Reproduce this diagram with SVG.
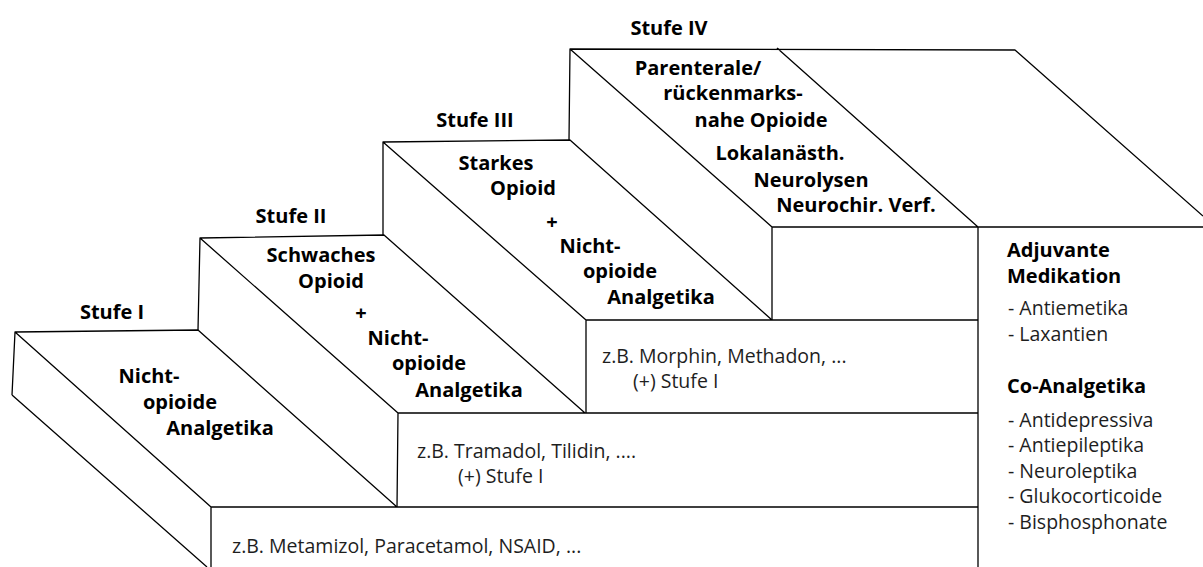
<svg xmlns="http://www.w3.org/2000/svg" width="1203" height="567" viewBox="0 0 1203 567">
<style>
.ln{fill:none;stroke:#000;stroke-width:1.3;stroke-linejoin:round}
.b{font-family:"Open Sans","Liberation Sans",sans-serif;font-weight:bold;font-size:20px;fill:#000;text-anchor:middle}
.bl{font-family:"Open Sans","Liberation Sans",sans-serif;font-weight:bold;font-size:20px;fill:#000}
.r{font-family:"Open Sans","Liberation Sans",sans-serif;font-size:19.5px;fill:#1e1e1e}
</style>
<rect width="1203" height="567" fill="#fff"/>
<g id="stufe1">
<path class="ln" d="M12,395 L15,332 L198,330 L397,507 M15,332 L211,507 L211,567 M12,395 L207,567 M211,507 L978,507"/>
<text class="b" x="112" y="319">Stufe I</text>
<text class="b" x="149" y="383">Nicht-</text>
<text class="b" x="180" y="409">opioide</text>
<text class="b" x="220" y="435">Analgetika</text>
<text class="r" x="232" y="553">z.B. Metamizol, Paracetamol, NSAID, ...</text>
</g>
<g id="stufe2">
<path class="ln" d="M198,330 L200,238 L384,235 L585,413 M200,238 L398,413 L397,507 M398,413 L978,413"/>
<text class="b" x="291" y="223">Stufe II</text>
<text class="b" x="321" y="262">Schwaches</text>
<text class="b" x="331" y="288">Opioid</text>
<text class="b" x="361" y="320">+</text>
<text class="b" x="398" y="345">Nicht-</text>
<text class="b" x="429" y="370">opioide</text>
<text class="b" x="469" y="397">Analgetika</text>
<text class="r" x="417" y="458">z.B. Tramadol, Tilidin, ....</text>
<text class="r" x="458" y="483">(+) Stufe I</text>
</g>
<g id="stufe3">
<path class="ln" d="M383,235 L383,142 L570,140 L772,320 M383,142 L586,320 L586,413 M586,320 L978,320"/>
<text class="b" x="475" y="127">Stufe III</text>
<text class="b" x="496" y="170">Starkes</text>
<text class="b" x="523" y="195">Opioid</text>
<text class="b" x="552" y="229">+</text>
<text class="b" x="590" y="253">Nicht-</text>
<text class="b" x="620" y="278">opioide</text>
<text class="b" x="661" y="304">Analgetika</text>
<text class="r" x="602" y="363">z.B. Morphin, Methadon, ...</text>
<text class="r" x="633" y="388">(+) Stufe I</text>
</g>
<g id="stufe4">
<path class="ln" d="M569,140 L570,49 L1015,50 L1203,216 M570,49 L772,227 L772,320 M777,48 L978,227 M772,227 L1203,227 M978,227 L978,567"/>
<text class="b" x="669" y="35">Stufe IV</text>
<text class="b" x="698" y="75">Parenterale/</text>
<text class="b" x="733" y="100">rückenmarks-</text>
<text class="b" x="761" y="127">nahe Opioide</text>
<text class="b" x="780" y="160">Lokalanästh.</text>
<text class="b" x="811" y="187">Neurolysen</text>
<text class="b" x="856" y="212">Neurochir. Verf.</text>
</g>
<g id="adjuvant">
<text class="bl" x="1007" y="257">Adjuvante</text>
<text class="bl" x="1007" y="283">Medikation</text>
<text class="r" x="1008" y="315">- Antiemetika</text>
<text class="r" x="1008" y="341">- Laxantien</text>
<text class="bl" x="1007" y="393">Co-Analgetika</text>
<text class="r" x="1008" y="427">- Antidepressiva</text>
<text class="r" x="1008" y="452">- Antiepileptika</text>
<text class="r" x="1008" y="478">- Neuroleptika</text>
<text class="r" x="1008" y="503">- Glukocorticoide</text>
<text class="r" x="1008" y="529">- Bisphosphonate</text>
</g>
</svg>
